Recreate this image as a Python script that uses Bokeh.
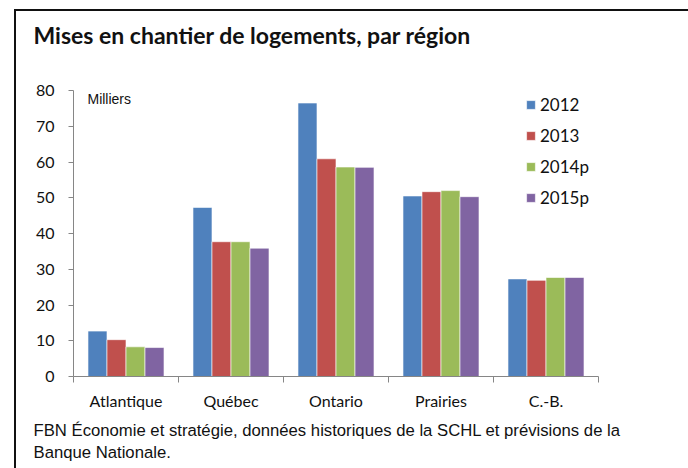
import numpy as np
from bokeh.plotting import figure
from bokeh.models import (Range1d, FixedTicker, Legend, LegendItem, Label, Title,
                          LinearAxis, InlineStyleSheet)
from bokeh.embed import file_html
from bokeh.resources import INLINE

regions = ["Atlantique", "Québec", "Ontario", "Prairies", "C.-B."]
series_names = ["2012", "2013", "2014p", "2015p"]
v2012 = [12.7, 47.3, 76.5, 50.5, 27.3]
v2013 = [10.3, 37.7, 60.9, 51.7, 26.9]
v2014 = [8.3, 37.7, 58.6, 52.0, 27.7]
v2015 = [8.1, 35.9, 58.5, 50.3, 27.7]
y_ticks = [0, 10, 20, 30, 40, 50, 60, 70, 80]

colors = ["#4F81BD", "#C0504D", "#9BBB59", "#8064A2"]
series = [v2012, v2013, v2014, v2015]

W, H = 688, 468
p = figure(width=W, height=H, output_backend="svg", toolbar_location=None,
           x_range=Range1d(0, len(regions)), y_range=Range1d(0, 80),
           min_border_left=73, min_border_right=90, min_border_top=90,
           min_border_bottom=92, x_axis_type=None, y_axis_type=None)
p.grid.visible = False
p.outline_line_color = None
p.background_fill_color = "white"
p.border_fill_color = "white"

# outer black frame of the chart box (left and top edges visible)
p.stylesheets = [InlineStyleSheet(css=(
    ":host::after { content: ''; position: absolute; left: 14px; top: 9px; "
    "width: 674px; height: 459px; border: none !important; "
    "border-left: 2px solid #111 !important; border-top: 2px solid #111 !important; "
    "border-right: none !important; border-bottom: none !important; "
    "outline: none !important; box-shadow: none !important; "
    "pointer-events: none; z-index: 10; box-sizing: border-box; }"))]

FONT = "Lato"
NARROW = "Liberation Sans"

# y axis
yax = LinearAxis(ticker=FixedTicker(ticks=y_ticks, minor_ticks=[]))
yax.axis_line_color = "#868686"
yax.major_tick_line_color = "#868686"
yax.major_tick_out = 5
yax.major_tick_in = 0
yax.minor_tick_line_color = None
yax.major_label_text_font = FONT
yax.major_label_text_font_size = "16px"
yax.major_label_text_color = "#111111"
yax.major_label_standoff = 14
p.add_layout(yax, "left")

# x axis: labels at centers, ticks at boundaries
centers = list(np.arange(len(regions)) + 0.5)
bounds = list(np.arange(len(regions) + 1).astype(float))
xax = LinearAxis(ticker=FixedTicker(ticks=centers, minor_ticks=bounds))
xax.major_label_overrides = {c: r for c, r in zip(centers, regions)}
xax.axis_line_color = "#868686"
xax.major_tick_line_color = None
xax.major_tick_out = 0
xax.minor_tick_line_color = "#868686"
xax.minor_tick_out = 6
xax.minor_tick_in = 0
xax.major_label_text_font = FONT
xax.major_label_text_font_size = "16px"
xax.major_label_text_color = "#111111"
xax.major_label_standoff = 8
p.add_layout(xax, "below")

bw = 0.181
offsets = [-1.5 * bw, -0.5 * bw, 0.5 * bw, 1.5 * bw]
items = []
idx = np.arange(len(regions)) + 0.5
for name, vals, col, off in zip(series_names, series, colors, offsets):
    r = p.vbar(x=idx + off, top=vals, width=bw, bottom=0, fill_color=col,
               line_color="white", line_alpha=0.6, line_width=1)
    items.append(LegendItem(label=name, renderers=[r]))

legend = Legend(items=items, location=(446, 162), glyph_width=11, glyph_height=11,
                label_height=20, spacing=10, padding=6, label_standoff=4,
                label_text_font=FONT, label_text_font_size="17px",
                label_text_color="#111111",
                border_line_alpha=0, background_fill_alpha=0)
p.add_layout(legend, "center")

p.add_layout(Label(x=0.133, y=80, text="Milliers", text_baseline="top",
                   text_font=NARROW, text_font_size="14px",
                   text_color="#111111"))

# spacer between the frame and the title, then the title itself
spacer = Title(text=" ", align="left", standoff=37, text_font_size="1px",
               text_color="white")
p.add_layout(spacer, "above")
title = Title(text="Mises en chantier de logements, par région", align="left",
              offset=-40, standoff=4, text_font=FONT, text_font_size="23px",
              text_font_style="bold", text_color="#111111")
p.add_layout(title, "above")

footer = Title(text="FBN Économie et stratégie, données historiques de la SCHL et prévisions de la\nBanque Nationale.",
               align="left", offset=-40, standoff=13, text_font=NARROW,
               text_font_size="16.7px", text_font_style="normal",
               text_line_height=1.15, text_color="#111111")
p.add_layout(footer, "below")

open("out.html", "w").write(file_html(p, INLINE))
